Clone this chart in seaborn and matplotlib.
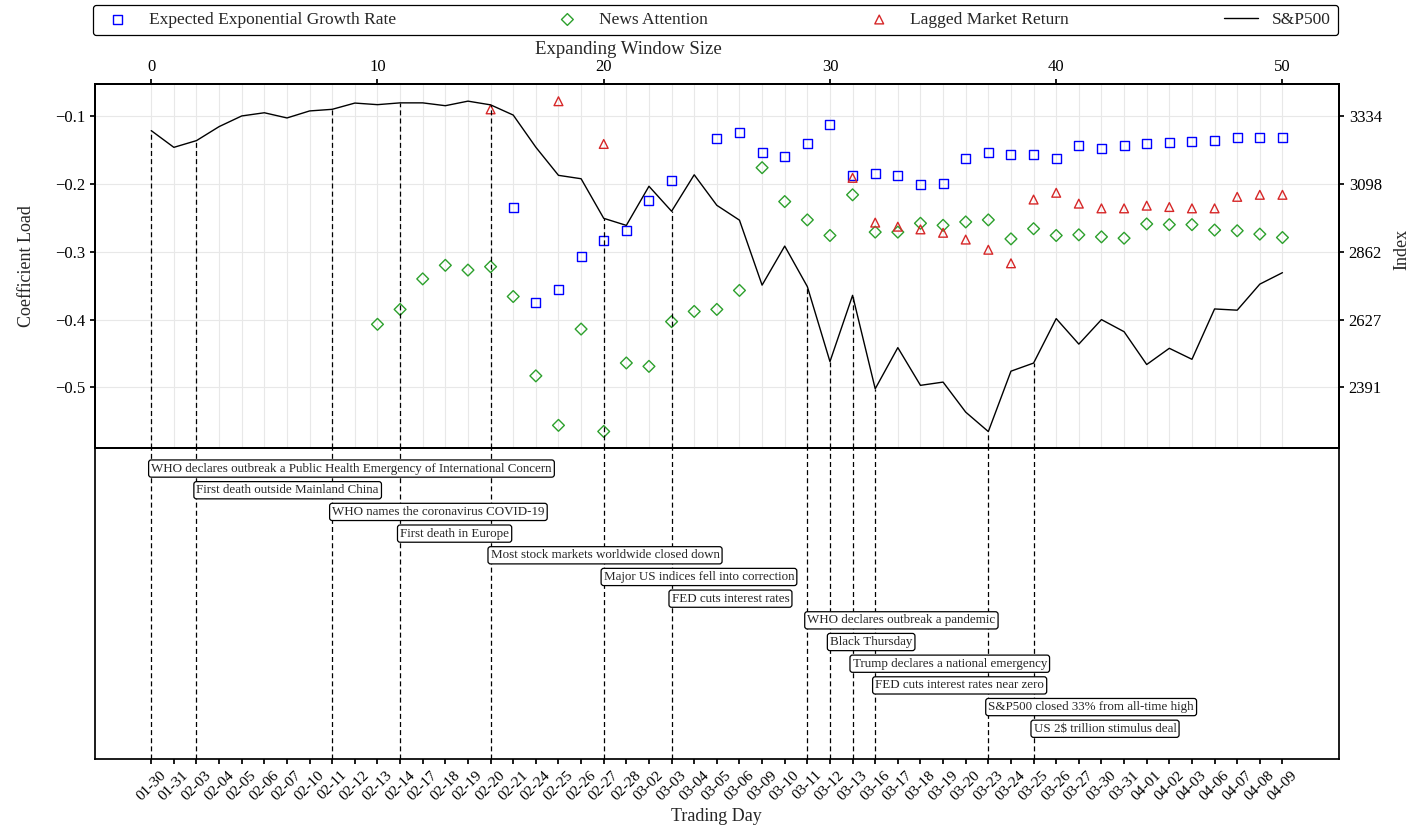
import numpy as np
import pandas as pd
import matplotlib
matplotlib.use('Agg')
import matplotlib.pyplot as plt
import seaborn as sns

nan = np.nan

# trading days (x axis of the lower panel)
trading_days = ['01-30', '01-31', '02-03', '02-04', '02-05', '02-06', '02-07', '02-10',
                '02-11', '02-12', '02-13', '02-14', '02-17', '02-18', '02-19', '02-20',
                '02-21', '02-24', '02-25', '02-26', '02-27', '02-28', '03-02', '03-03',
                '03-04', '03-05', '03-06', '03-09', '03-10', '03-11', '03-12', '03-13',
                '03-16', '03-17', '03-18', '03-19', '03-20', '03-23', '03-24', '03-25',
                '03-26', '03-27', '03-30', '03-31', '04-01', '04-02', '04-03', '04-06',
                '04-07', '04-08', '04-09']

sp500 = [3283.66, 3225.52, 3248.92, 3297.59, 3334.69, 3345.78, 3327.71, 3352.09,
         3357.75, 3379.45, 3373.94, 3380.16, 3380.16, 3370.29, 3386.15, 3373.23,
         3337.75, 3225.89, 3128.21, 3116.39, 2978.76, 2954.22, 3090.23, 3003.37,
         3130.12, 3023.94, 2972.37, 2746.56, 2882.23, 2741.38, 2480.64, 2711.02,
         2386.13, 2529.19, 2398.10, 2409.39, 2304.92, 2237.40, 2447.33, 2475.56,
         2630.07, 2541.47, 2626.65, 2584.59, 2470.50, 2526.90, 2488.65, 2663.68,
         2659.41, 2749.98, 2789.82]

growth_rate = [nan] * 16 + [
    -0.235, -0.375, -0.355, -0.307, -0.283, -0.268, -0.225, -0.195,
    nan, -0.133, -0.124, -0.153, -0.160, -0.140, -0.112, -0.188,
    -0.185, -0.187, -0.201, -0.200, -0.162, -0.154, -0.157, -0.156,
    -0.162, -0.144, -0.147, -0.143, -0.141, -0.139, -0.137, -0.136,
    -0.132, -0.132, -0.131]

news_attention = [nan] * 10 + [
    -0.407, -0.385, -0.340, -0.320, -0.327, -0.322, -0.366, -0.483,
    -0.556, -0.414, -0.565, -0.464, -0.469, -0.403, -0.388, -0.385,
    -0.357, -0.176, -0.226, -0.253, -0.276, -0.216, -0.271, -0.271,
    -0.258, -0.261, -0.256, -0.253, -0.281, -0.266, -0.276, -0.275,
    -0.278, -0.280, -0.259, -0.260, -0.260, -0.268, -0.269, -0.274,
    -0.279]

lagged_return = [nan] * 15 + [-0.090, nan, nan, -0.078, nan, -0.141] + [nan] * 10 + [
    -0.191, -0.257, -0.263, -0.267, -0.272, -0.282, -0.297, -0.317,
    -0.223, -0.213, -0.229, -0.236, -0.236, -0.232, -0.234, -0.236,
    -0.236, -0.219, -0.216, -0.216]

event_days = ['01-30', '02-03', '02-11', '02-14', '02-20', '02-27', '03-03',
              '03-11', '03-12', '03-13', '03-16', '03-23', '03-25']
event_texts = ['WHO declares outbreak a Public Health Emergency of International Concern',
               'First death outside Mainland China',
               'WHO names the coronavirus COVID-19',
               'First death in Europe',
               'Most stock markets worldwide closed down',
               'Major US indices fell into correction',
               'FED cuts interest rates',
               'WHO declares outbreak a pandemic',
               'Black Thursday',
               'Trump declares a national emergency',
               'FED cuts interest rates near zero',
               'S&P500 closed 33% from all-time high',
               'US 2$ trillion stimulus deal']

left_ticks = [-0.5, -0.4, -0.3, -0.2, -0.1]
right_ticks = [2391, 2627, 2862, 3098, 3334]
top_ticks = [0, 10, 20, 30, 40, 50]

df = pd.DataFrame({'window': np.arange(len(trading_days)),
                   'day': trading_days,
                   'sp500': sp500,
                   'growth': growth_rate,
                   'news': news_attention,
                   'lagged': lagged_return})

sns.set_theme(style='ticks')
plt.rcParams['font.family'] = ['Liberation Serif', 'DejaVu Serif']
plt.rcParams['axes.edgecolor'] = 'black'
plt.rcParams['xtick.color'] = 'black'
plt.rcParams['ytick.color'] = 'black'

fig = plt.figure(figsize=(14.15, 8.27), dpi=100)
ax = fig.add_axes([0.0669, 0.4586, 0.8794, 0.4395])
axb = fig.add_axes([0.0669, 0.0826, 0.8794, 0.376])

xlim = (-2.5, 52.5)
ylim = (-0.589, -0.053)

# upper panel: coefficient loads
sns.scatterplot(data=df, x='window', y='growth', ax=ax, marker='s', s=42,
                facecolor='none', edgecolor='blue', linewidth=1,
                label='Expected Exponential Growth Rate', zorder=3)
sns.scatterplot(data=df, x='window', y='news', ax=ax, marker='D', s=36,
                facecolor='none', edgecolor='tab:green', linewidth=1,
                label='News Attention', zorder=3)
sns.scatterplot(data=df, x='window', y='lagged', ax=ax, marker='^', s=40,
                facecolor='none', edgecolor='tab:red', linewidth=1,
                label='Lagged Market Return', zorder=3)
ax.set_xlim(xlim)
ax.set_ylim(ylim)
ax.set_yticks(left_ticks)
ax.set_yticklabels([f'{t:.1f}'.replace('-', '\u2212') for t in left_ticks])
ax.set_xticks(df['window'])
ax.set_xticklabels([])
ax.tick_params(axis='x', length=0)
ax.tick_params(axis='y', direction='out', length=3.5, labelsize=12)
ax.grid(True, color='#e8e8e8', linewidth=0.8)
ax.set_axisbelow(True)
ax.set_xlabel('')
ax.set_ylabel('Coefficient Load', fontsize=13, labelpad=14)

# right axis: S&P500 index, ticks aligned with the left ones
ax_r = ax.twinx()
sns.lineplot(data=df, x='window', y='sp500', ax=ax_r, color='black',
             linewidth=1, label='S&P500')
slope = (right_ticks[-1] - right_ticks[0]) / (left_ticks[-1] - left_ticks[0])
ax_r.set_ylim([right_ticks[0] + (v - left_ticks[0]) * slope for v in ylim])
ax_r.set_yticks(right_ticks)
ax_r.set_yticklabels([str(t) for t in right_ticks])
ax_r.tick_params(axis='y', direction='out', length=3.5, labelsize=12)
ax_r.set_ylabel('Index', fontsize=13, labelpad=8)
ax_r.yaxis.label.set_y(0.545)
ax_r.set_xlabel('')

event_x = [trading_days.index(d) for d in event_days]
event_sp = [sp500[i] for i in event_x]
ax_r.vlines(event_x, ax_r.get_ylim()[0], event_sp, colors='black',
            linestyles=(0, (4, 2.5)), linewidth=0.9)

# top axis: expanding window size
ax_t = ax.twiny()
ax_t.set_xlim(xlim)
ax_t.set_xticks(top_ticks)
ax_t.tick_params(axis='x', direction='out', length=3.5, labelsize=12)
ax_t.set_xlabel('Expanding Window Size', fontsize=13.5, labelpad=3)
ax_t.xaxis.label.set_x(0.4286)

# legend on top
handles, labels = [], []
for a in (ax, ax_r):
    h, l = a.get_legend_handles_labels()
    handles += h
    labels += l
    if a.get_legend() is not None:
        a.get_legend().remove()
leg = fig.legend(handles, labels, loc='lower left',
                 bbox_to_anchor=(93 / 1415, 1 - 35 / 827, (1338 - 93) / 1415, 0.02),
                 mode='expand', ncol=4, borderaxespad=0, fontsize=12.5,
                 frameon=True, fancybox=True, framealpha=1, edgecolor='black')
leg.get_frame().set_linewidth(0.9)

# lower panel: events
axb.set_xlim(xlim)
axb.set_ylim(14.38, 0.04)
for k, (x, txt) in enumerate(zip(event_x, event_texts)):
    axb.axvline(x, color='black', linestyle=(0, (4, 2.5)), linewidth=0.9, zorder=1)
    axb.text(x, k + 1, txt, ha='left', va='center', fontsize=9.4, zorder=3,
             bbox=dict(boxstyle='round,pad=0.2', facecolor='white',
                       edgecolor='black', linewidth=0.9))
axb.set_yticks([])
axb.set_xticks(df['window'])
axb.set_xticklabels(trading_days, rotation=45, fontsize=11)
axb.tick_params(axis='x', direction='out', length=3.5)
axb.set_xlabel('Trading Day', fontsize=13)

fig.savefig('out.png', dpi=100)
